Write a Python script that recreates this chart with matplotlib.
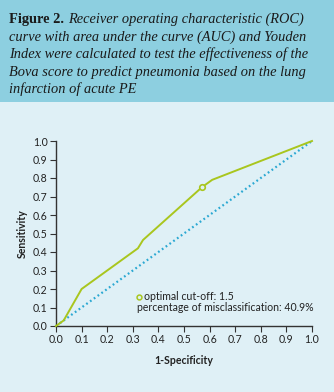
import matplotlib
matplotlib.use("Agg")
import matplotlib.pyplot as plt
from matplotlib.patches import Rectangle

# Data
roc_x = [0.0, 0.03, 0.10, 0.32, 0.34, 0.57, 0.61, 1.0]
roc_y = [0.0, 0.03, 0.20, 0.42, 0.465, 0.75, 0.79, 1.0]
ref_x = [0.0, 1.0]
ref_y = [0.0, 1.0]
opt_x = [0.57]
opt_y = [0.75]
ticks = [0.0, 0.1, 0.2, 0.3, 0.4, 0.5, 0.6, 0.7, 0.8, 0.9, 1.0]
tick_labels = ["0.0", "0.1", "0.2", "0.3", "0.4", "0.5", "0.6", "0.7", "0.8", "0.9", "1.0"]
caption_lines = [
    "curve with area under the curve (AUC) and Youden",
    "Index were calculated to test the effectiveness of the",
    "Bova score to predict pneumonia based on the lung",
    "infarction of acute PE",
]
caption_head = "Figure 2."
caption_first = "Receiver operating characteristic (ROC)"
legend_line1 = "optimal cut-off: 1.5"
legend_line2 = "percentage of misclassification: 40.9%"

W, H = 334, 392
BG = "#dff0f6"
HEAD = "#8dcfe0"
GREEN = "#a9c61e"
BLUE = "#2aa8d2"
DARK = "#333333"

fig = plt.figure(figsize=(W / 100, H / 100), dpi=100, facecolor=BG)

# Header box
fig.patches.append(Rectangle((0, 1 - 102 / H), 1, 102 / H, transform=fig.transFigure,
                             facecolor=HEAD, edgecolor="none", zorder=0))

serif = ["Liberation Serif", "DejaVu Serif"]
fs_cap = 10.4
x0 = 9 / W
y_base = [23, 41, 58, 76, 93]
renderer = fig.canvas.get_renderer()
t = fig.text(x0, 1 - y_base[0] / H, caption_head + " ", family=serif, fontweight="bold",
             fontsize=fs_cap, color="#1a1a1a", va="baseline")
bb = t.get_window_extent(renderer=renderer)
fig.text(bb.x1 / W, 1 - y_base[0] / H, caption_first, family=serif, style="italic",
         fontsize=fs_cap, color="#1a1a1a", va="baseline")
for i, line in enumerate(caption_lines):
    fig.text(x0, 1 - y_base[i + 1] / H, line, family=serif, style="italic",
             fontsize=fs_cap, color="#1a1a1a", va="baseline")

# Axes
left, right, bottom, top = 56 / W, 312 / W, 1 - 326 / H, 1 - 141 / H
ax = fig.add_axes([left, bottom, right - left, top - bottom])
ax.set_facecolor("none")
ax.set_xlim(0, 1)
ax.set_ylim(0, 1)
for s in ["top", "right"]:
    ax.spines[s].set_visible(False)
for s in ["left", "bottom"]:
    ax.spines[s].set_color(DARK)
    ax.spines[s].set_linewidth(1.0)

sans = ["Lato", "DejaVu Sans"]
fs = 7.6
ax.set_xticks(ticks)
ax.set_yticks(ticks)
ax.set_xticklabels(tick_labels, family=sans, fontsize=fs)
ax.set_yticklabels(tick_labels, family=sans, fontsize=fs)
ax.tick_params(direction="out", length=4, width=0.8, color=DARK, labelcolor="#222222", pad=2)

ax.plot(ref_x, ref_y, color=BLUE, linewidth=1.6, linestyle=(0, (0.8, 1.3)),
        clip_on=False, zorder=2)
ax.plot(roc_x, roc_y, color=GREEN, linewidth=1.4, clip_on=False, zorder=3)
ax.plot(opt_x, opt_y, marker="o", markersize=4, markerfacecolor=BG,
        markeredgecolor=GREEN, markeredgewidth=1.2, linestyle="none", zorder=4)

# Legend text
ax.plot([0.325], [0.157], marker="o", markersize=3.5, markerfacecolor=BG,
        markeredgecolor=GREEN, markeredgewidth=1.1, linestyle="none", zorder=4)
ax.text(0.342, 0.157, legend_line1, family=sans, fontsize=fs, color="#222222",
        va="center", ha="left")
ax.text(0.315, 0.098, legend_line2, family=sans, fontsize=fs, color="#222222",
        va="center", ha="left")

ax.set_xlabel("1-Specificity", family=sans, fontsize=fs, fontweight="bold",
              color="#222222", labelpad=7)
ax.set_ylabel("Sensitivity", family=sans, fontsize=fs, fontweight="bold",
              color="#222222", labelpad=4)

fig.savefig("out.png", dpi=100, facecolor=BG)
